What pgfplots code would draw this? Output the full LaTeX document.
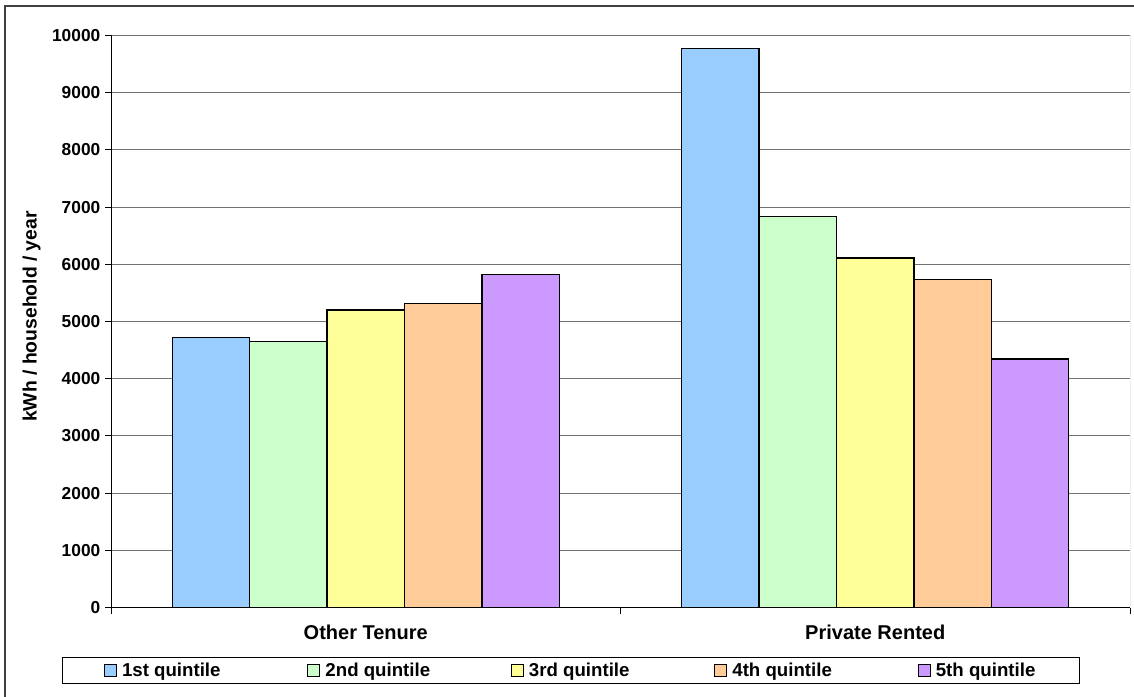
\documentclass[border=0pt]{standalone}
\usepackage{pgfplots}
\pgfplotsset{compat=1.18}
\usepackage{fontspec}
\setmainfont{Liberation Sans}
\definecolor{qa}{HTML}{99CCFF}
\definecolor{qb}{HTML}{CCFFCC}
\definecolor{qc}{HTML}{FFFF99}
\definecolor{qd}{HTML}{FFCC99}
\definecolor{qe}{HTML}{CC99FF}
\begin{document}
\begin{tikzpicture}
\useasboundingbox (0,0) rectangle (850.5pt,522pt);
\draw[black!75, line width=1pt] (3.75pt,-5pt) |- (860pt,517.5pt);
\begin{axis}[
  at={(83.25pt,66.375pt)}, anchor=south west,
  width=764.25pt, height=429pt, scale only axis,
  xmin=-0.5, xmax=1.5, ymin=0, ymax=10000,
  ybar=0pt, bar width=0.152,
  axis x line*=bottom, axis y line*=left,
  axis line style={-, black, line width=0.75pt},
  tick align=outside, major tick length=4.5pt,
  tick style={black, line width=0.75pt},
  xtick={-0.5,0.5,1.5}, xticklabels={},
  extra x ticks={0,1},
  extra x tick labels={Other Tenure, Private Rented},
  extra x tick style={major tick length=0pt,
    xticklabel style={font=\fontsize{15}{18}\selectfont\bfseries, anchor=north, inner sep=0pt, yshift=-13pt}},
  ytick={0,1000,...,10000},
  scaled y ticks=false,
  ymajorgrids, grid style={black!55, line width=0.75pt},
  yticklabel style={font=\fontsize{13}{15}\selectfont\bfseries},
  /pgf/number format/assume math mode=true,
  /pgf/number format/1000 sep={},
  ylabel={kWh / household / year},
  every axis y label/.style={at={(axis description cs:-0.0778,0.5087)}, rotate=90, anchor=center,
    font=\fontsize{14.5}{17}\selectfont\bfseries},
  legend columns=5,
  legend style={at={(0.4514,-0.1101)}, anchor=center, draw=black, line width=0.75pt,
    font=\fontsize{14}{16}\selectfont\bfseries,
    inner xsep=31pt, inner ysep=3pt,
    nodes={inner xsep=2pt, inner ysep=1pt}},
  legend image code/.code={\draw[#1, draw=black, line width=0.6pt] (0pt,-4.5pt) rectangle (9pt,4.5pt);},
]
\addplot[fill=qa, draw=black, line width=0.9pt] coordinates {(0,4725) (1,9775)};
\addplot[fill=qb, draw=black, line width=0.9pt] coordinates {(0,4650) (1,6842)};
\addplot[fill=qc, draw=black, line width=0.9pt] coordinates {(0,5200) (1,6110)};
\addplot[fill=qd, draw=black, line width=0.9pt] coordinates {(0,5320) (1,5732)};
\addplot[fill=qe, draw=black, line width=0.9pt] coordinates {(0,5825) (1,4346)};
\addlegendentry{\hspace{2pt}\makebox[137pt][l]{1st quintile}}
\addlegendentry{\hspace{2pt}\makebox[137pt][l]{2nd quintile}}
\addlegendentry{\hspace{2pt}\makebox[137pt][l]{3rd quintile}}
\addlegendentry{\hspace{2pt}\makebox[137pt][l]{4th quintile}}
\addlegendentry{\hspace{2pt}5th quintile}
\draw[black!55, line width=0.75pt] (rel axis cs:1,0) -- (rel axis cs:1,1);
\end{axis}
\end{tikzpicture}
\end{document}
